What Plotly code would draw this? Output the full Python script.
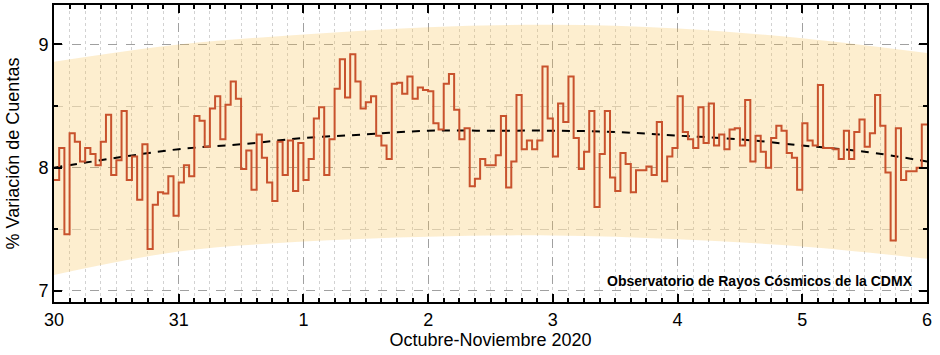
import pandas as pd
import plotly.graph_objects as go

# Hourly cosmic-ray count variation (%), 30 Oct 2020 00:00 -> 5 Nov 2020 23:00
values = [
    7.90, 8.16, 7.46, 8.28, 8.21, 8.05, 8.16, 8.11, 8.02, 8.21, 8.43, 7.94,
    8.06, 8.46, 7.90, 8.09, 7.74, 8.19, 7.34, 7.70, 7.80, 7.79, 7.93, 7.61,
    7.88, 8.02, 7.93, 8.42, 8.38, 8.17, 8.48, 8.58, 8.23, 8.51, 8.70, 8.56,
    7.99, 8.14, 7.82, 8.27, 8.08, 7.88, 7.73, 8.21, 7.94, 8.22, 7.81, 8.20,
    7.90, 8.07, 8.40, 8.49, 7.94, 8.23, 8.64, 8.88, 8.57, 8.92, 8.70, 8.48,
    8.53, 8.58, 8.26, 8.18, 8.07, 8.68, 8.69, 8.60, 8.74, 8.56, 8.65, 8.63,
    8.62, 8.36, 8.31, 8.68, 8.76, 8.47, 8.23, 8.32, 7.85, 7.91, 8.07, 8.02,
    8.02, 8.10, 8.42, 7.84, 8.05, 8.59, 8.15, 8.22, 8.15, 8.22, 8.82, 8.40,
    8.09, 8.52, 8.37, 8.74, 8.24, 7.99, 8.13, 8.46, 7.68, 8.11, 8.46, 7.92,
    7.81, 8.12, 8.03, 7.80, 7.98, 7.98, 8.01, 7.94, 8.37, 7.89, 8.09, 8.16,
    8.58, 8.29, 8.23, 8.16, 8.49, 8.20, 8.52, 8.18, 8.27, 8.15, 8.31, 8.32,
    8.18, 8.55, 8.05, 8.26, 8.13, 8.00, 8.24, 8.34, 8.30, 8.12, 8.08, 7.82,
    8.36, 8.22, 8.18, 8.67, 8.16, 8.16, 8.15, 8.07, 8.30, 8.07, 8.29, 8.39,
    8.17, 8.28, 8.59, 8.34, 7.96, 7.41, 8.32, 7.90, 7.97, 7.97, 8.00, 8.35,
]

# Fitted trend, every half day from 30 Oct to 6 Nov
fit_values = [8.00, 8.08, 8.15, 8.19, 8.24, 8.27, 8.30, 8.30,
              8.30, 8.29, 8.26, 8.23, 8.18, 8.13, 8.05]

# Shaded band limits, at each day from 30 Oct to 6 Nov
band_upper = [8.86, 9.00, 9.08, 9.14, 9.16, 9.13, 9.05, 8.93]
band_lower = [7.13, 7.32, 7.40, 7.44, 7.45, 7.42, 7.36, 7.26]

tick_labels = ["30", "31", "1", "2", "3", "4", "5", "6"]

start = pd.Timestamp("2020-10-30 00:00")
end = pd.Timestamp("2020-11-06 00:00")

hours = pd.date_range(start, periods=len(values) + 1, freq="h")
step_y = values + [values[-1]]
half_days = pd.date_range(start, end, freq="12h")
days = pd.date_range(start, end, freq="D")

fig = go.Figure()

fig.add_trace(go.Scatter(
    x=days, y=band_lower, mode="lines", line=dict(width=0, shape="spline"),
    hoverinfo="skip", showlegend=False))
fig.add_trace(go.Scatter(
    x=days, y=band_upper, mode="lines", line=dict(width=0, shape="spline"),
    fill="tonexty", fillcolor="rgba(248,194,78,0.27)",
    hoverinfo="skip", showlegend=False))

fig.add_trace(go.Scatter(
    x=half_days, y=fit_values, mode="lines",
    line=dict(color="black", width=2, dash="8px,7px", shape="spline"),
    showlegend=False))

fig.add_trace(go.Scatter(
    x=hours, y=step_y, mode="lines",
    line=dict(color="#c8522d", width=2, shape="hv"),
    showlegend=False))

fig.add_annotation(
    text="<b>Observatorio de Rayos Cósmicos de la CDMX</b>",
    xref="x domain", yref="y", x=0.986, y=7.08,
    xanchor="right", yanchor="middle", showarrow=False,
    font=dict(family="Liberation Sans, Arial, sans-serif", size=14, color="black"))

fig.update_layout(
    width=940, height=355,
    margin=dict(l=54, r=13, t=5, b=53, autoexpand=False),
    paper_bgcolor="white", plot_bgcolor="white",
    font=dict(family="Liberation Sans, Arial, sans-serif", size=18, color="black"),
    showlegend=False,
)

fig.update_xaxes(
    type="date", range=[start, end], automargin=False,
    tickvals=days, ticktext=tick_labels,
    ticks="inside", ticklen=8, tickwidth=1.5, tickcolor="black",
    showline=True, linewidth=2, linecolor="black", mirror="allticks",
    showgrid=True, gridcolor="#a0a0a0", gridwidth=1, griddash="dash",
    zeroline=False,
    minor=dict(tick0=start, dtick=3 * 3600 * 1000, ticks="inside", ticklen=4,
               tickcolor="black", tickwidth=1.5,
               showgrid=True, gridcolor="#d2d2d2", griddash="dot", gridwidth=1),
    title=dict(text="Octubre-Noviembre 2020", font=dict(size=18), standoff=5),
)

fig.update_yaxes(
    range=[6.91, 9.32], tickvals=[7, 8, 9], automargin=False,
    ticks="inside", ticklen=8, tickwidth=1.5, tickcolor="black",
    showline=True, linewidth=2, linecolor="black", mirror="allticks",
    showgrid=True, gridcolor="#a0a0a0", gridwidth=1, griddash="dash",
    zeroline=False,
    minor=dict(tick0=7, dtick=0.5, ticks="inside", ticklen=4,
               tickcolor="black", tickwidth=1.5,
               showgrid=True, gridcolor="#cfcfcf", griddash="dash", gridwidth=1),
    title=dict(text="% Variación de Cuentas", font=dict(size=18), standoff=14),
)

fig.write_html("out.html", config={"displayModeBar": False},
               post_script="document.body.style.margin='0px';")
